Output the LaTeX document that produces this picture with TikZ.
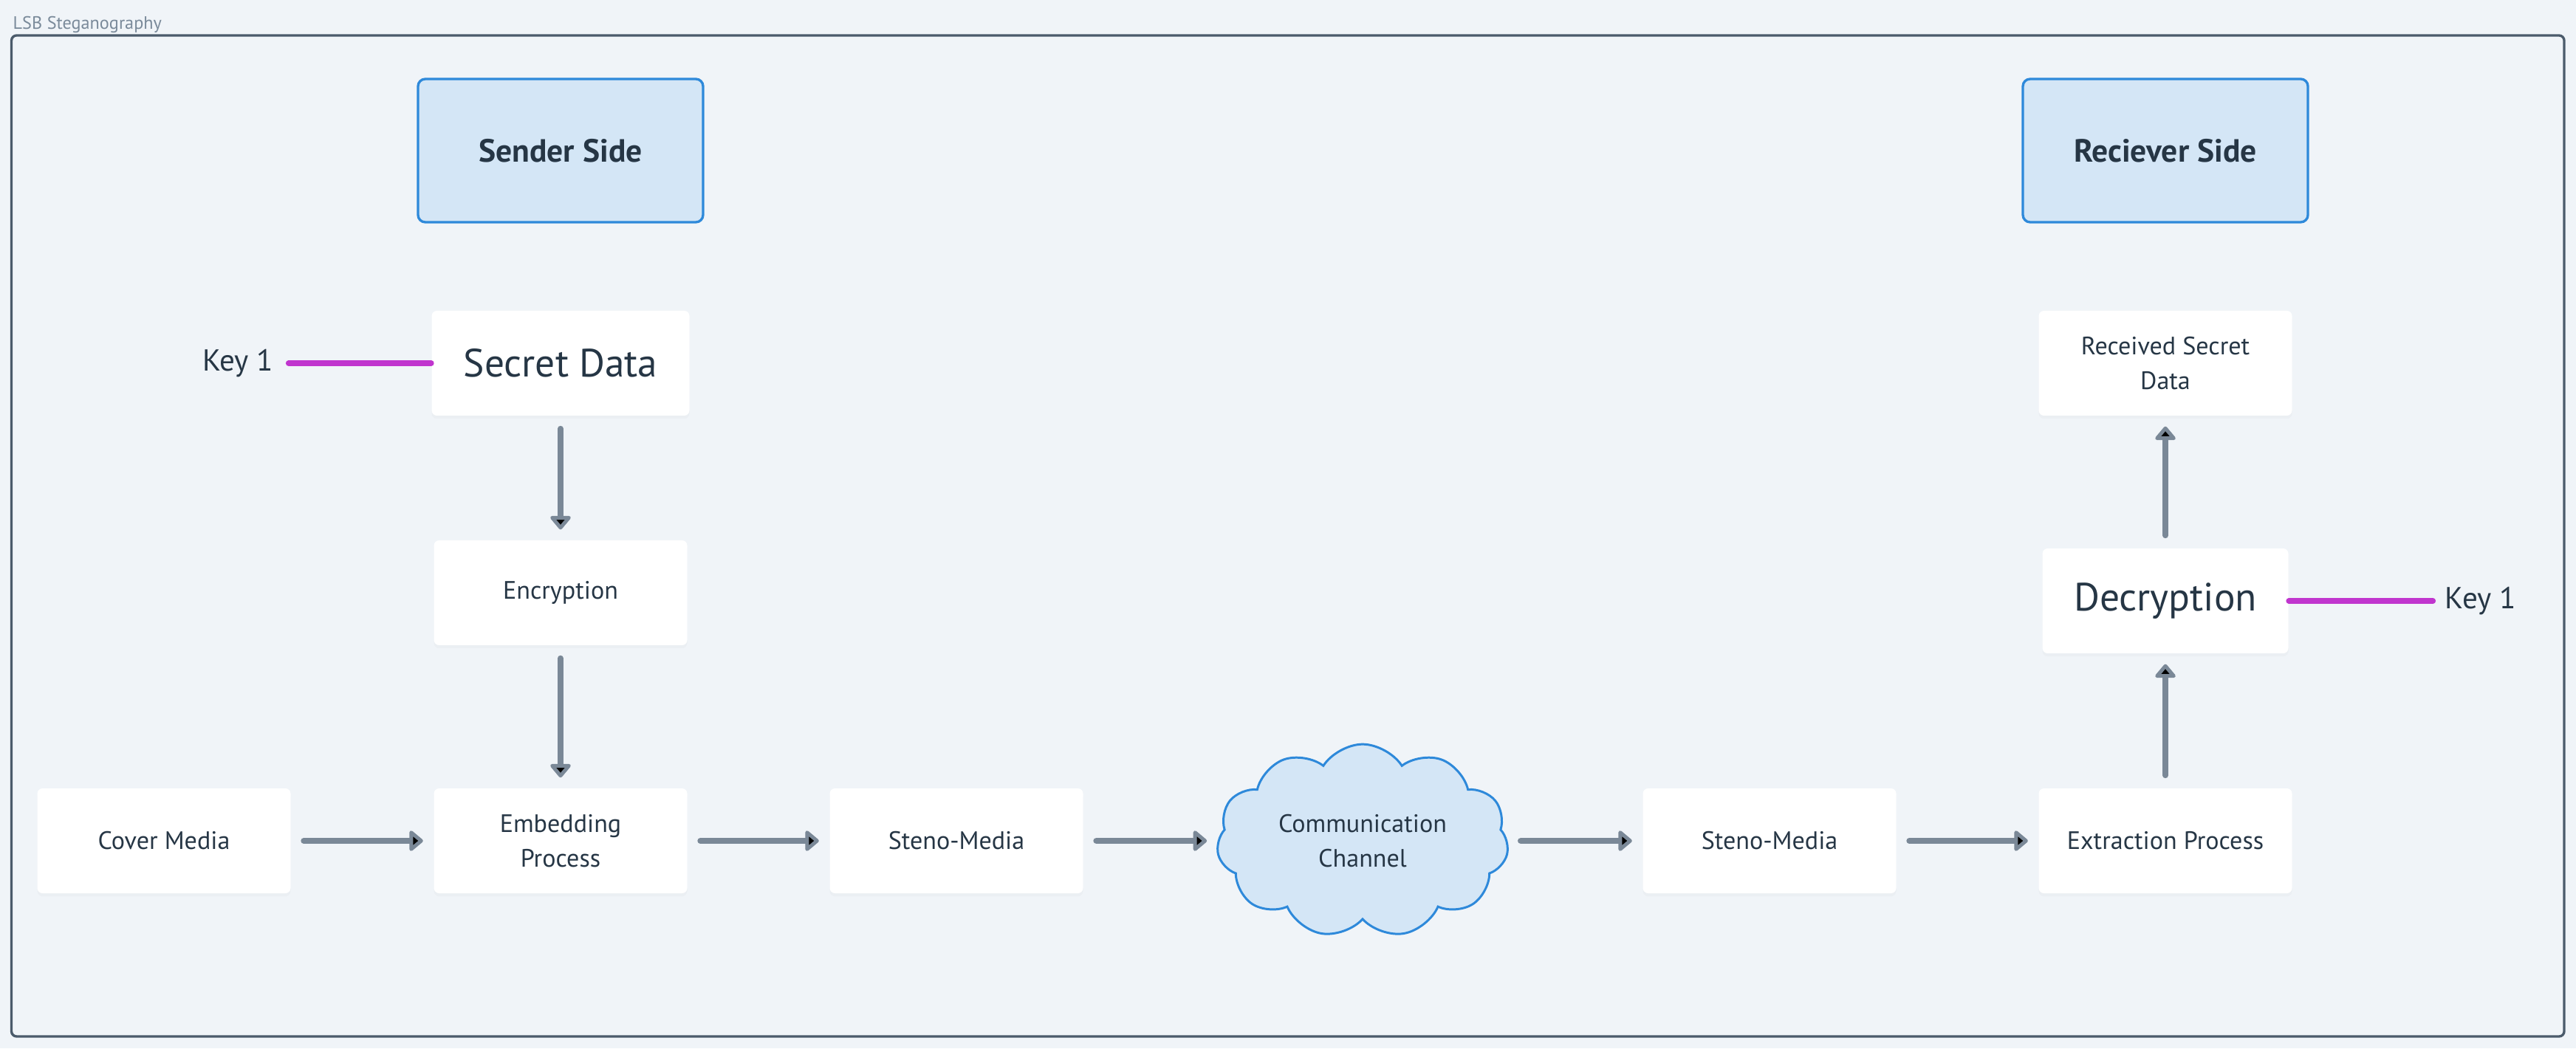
\documentclass[tikz,border=0pt]{standalone}
\usepackage{fontspec}
\setmainfont{PT Sans}
\usetikzlibrary{arrows.meta,positioning,shapes.symbols,shadows}

\definecolor{bgcol}{HTML}{F0F4F8}
\definecolor{framecol}{HTML}{4B5B6B}
\definecolor{titlecol}{HTML}{7A8A9A}
\definecolor{txtcol}{HTML}{263645}
\definecolor{sidefill}{HTML}{D4E6F6}
\definecolor{sidedraw}{HTML}{2E89DA}
\definecolor{flowcol}{HTML}{7A8897}
\definecolor{keycol}{HTML}{C035CE}

\tikzset{
  box/.style={rectangle, rounded corners=2pt, fill=white, text=txtcol,
    minimum width=3.43cm, minimum height=1.42cm, align=center,
    font=\fontsize{9.7}{13.3}\selectfont,
    drop shadow={shadow xshift=0pt, shadow yshift=-1.2pt, opacity=0.04}},
  bigbox/.style={box, font=\fontsize{15.2}{18}\selectfont},
  sidebox/.style={rectangle, rounded corners=2.8pt, fill=sidefill, draw=sidedraw,
    line width=0.95pt, text=txtcol, minimum width=3.86cm, minimum height=1.94cm,
    font=\fontsize{12.4}{15}\selectfont\bfseries},
  channelcloud/.style={cloud, cloud puffs=11, cloud puff arc=115, aspect=1.65,
    fill=sidefill, draw=sidedraw, line width=0.85pt, text=txtcol, align=center,
    minimum width=3.95cm, minimum height=2.4cm,
    font=\fontsize{9.7}{13.3}\selectfont},
  keytext/.style={text=txtcol, font=\fontsize{11.7}{14}\selectfont, inner sep=0pt},
  flow/.style={-{Triangle[length=0.2cm,width=0.32cm,round]}, draw=flowcol,
    line width=2.2pt, line cap=round, shorten <=0.17cm, shorten >=0.14cm},
  keyline/.style={draw=keycol, line width=2.2pt, line cap=round}
}

\begin{document}
\begin{tikzpicture}[node distance=5.37cm,on grid]
 \fill[bgcol] (0,0) rectangle (34.88,14.20);
 \useasboundingbox (0,0) rectangle (34.88,14.20);
 \draw[framecol, line width=0.95pt, rounded corners=2pt] (0.155,13.72) rectangle (34.72,0.16);
 \node[anchor=base west, text=titlecol, font=\fontsize{6.9}{8}\selectfont, inner sep=0pt]
   (title) at (0.17,13.80) {LSB Steganography};

 % sender side
 \node[box] (cover) at (2.22,2.81) {Cover Media};
 \node[box] (embed) [right=of cover] {Embedding\\Process};
 \node[box] (encrypt) [above=3.36cm of embed] {Encryption};
 \node[bigbox, minimum width=3.49cm] (secret) [above=3.11cm of encrypt] {Secret Data};
 \node[sidebox] (sender) [above=2.88cm of secret] {Sender Side};
 \coordinate[left=1.93cm of secret.west] (keyend1);
 \node[keytext] (key1) [left=0.2cm of keyend1] {Key 1};

 % channel
 \node[box] (steno1) [right=5.36cm of embed] {Steno-Media};
 \node[channelcloud] (channel) [right=5.50cm of steno1] {Communication\\Channel};
 \node[box] (steno2) [right=5.51cm of channel] {Steno-Media};

 % receiver side
 \node[box] (extract) [right=5.36cm of steno2] {Extraction Process};
 \node[bigbox, minimum width=3.33cm] (decrypt) [above=3.25cm of extract] {Decryption};
 \node[box] (received) [above=3.22cm of decrypt] {Received Secret\\Data};
 \node[sidebox] (receiver) [above=2.88cm of received] {Reciever Side};
 \coordinate[right=1.95cm of decrypt.east] (keyend2);
 \node[keytext] (key2) [right=0.16cm of keyend2] {Key 1};

 \path[flow]
 (cover) edge (embed)
 (embed) edge (steno1)
 (steno1) edge (channel)
 (channel) edge (steno2)
 (steno2) edge (extract)
 (secret) edge (encrypt)
 (encrypt) edge (embed)
 (extract) edge (decrypt)
 (decrypt) edge (received);
 \draw[keyline] (secret.west) -- (keyend1);
 \draw[keyline] (decrypt.east) -- (keyend2);
\end{tikzpicture}
\end{document}
